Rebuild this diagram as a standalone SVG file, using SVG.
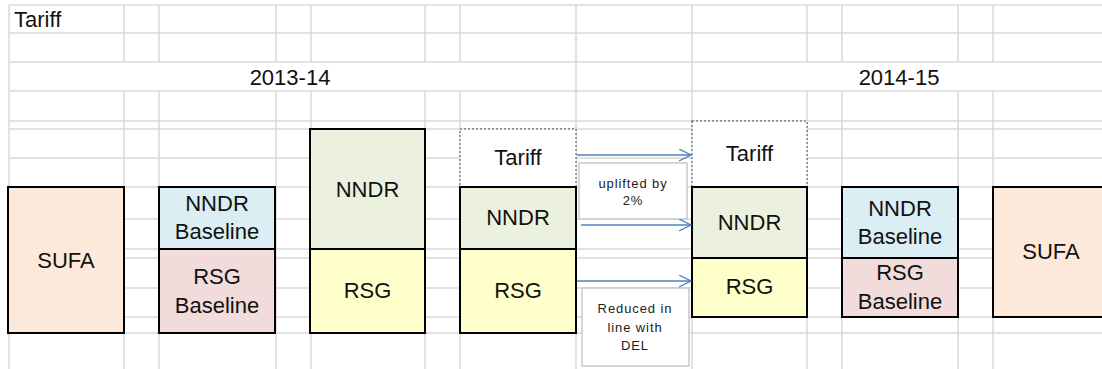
<svg xmlns="http://www.w3.org/2000/svg" width="1102" height="369" viewBox="0 0 1102 369">
  <style>
    .grid { stroke: #D9D9D9; stroke-width: 1.5; fill: none; }
    .box { stroke: #000; stroke-width: 2; }
    .dotted { fill: #fff; stroke: #808080; stroke-width: 1.5; stroke-dasharray: 2 2; }
    .note { fill: #fff; stroke: #C8C8C8; stroke-width: 1.5; }
    .lbl { font-family: "Liberation Sans", Arial, sans-serif; font-size: 22px; fill: #111; text-anchor: middle; }
    .hdr { font-family: "Liberation Sans", Arial, sans-serif; font-size: 22px; fill: #111; }
    .small { font-family: "Liberation Sans", Arial, sans-serif; font-size: 13px; fill: #222; text-anchor: middle; letter-spacing: 0.9px; }
    .arrow { stroke: #4F81BD; stroke-width: 1.3; fill: none; marker-end: url(#chev); }
    .sufa { fill: #FDE9D9; }
    .nnb { fill: #DAEEF3; }
    .rsb { fill: #F2DCDB; }
    .nndr { fill: #EBF1DE; }
    .rsg { fill: #FFFFCC; }
  </style>
  <defs>
    <marker id="chev" markerUnits="userSpaceOnUse" markerWidth="14" markerHeight="14" refX="12" refY="6" orient="auto">
      <path d="M0,0 L12,6 L0,12" stroke="#4F81BD" stroke-width="1.3" fill="none"/>
    </marker>
  </defs>

  <rect x="0" y="0" width="1102" height="369" fill="#fff"/>

  <!-- spreadsheet grid -->
  <g id="grid" class="grid">
    <path d="M9,5 H1102 M9,33 H1102 M9,62 H1102 M9,91 H1102 M9,121 H1102 M9,129 H1102 M9,158 H1102 M9,187 H1102 M9,219 H1102 M9,249 H1102 M9,258 H1102 M9,288 H1102 M9,317 H1102 M9,333 H1102"/>
    <path d="M9,5 V369 M576,5 V369 M692,5 V369"/>
    <path d="M124,5 V62 M124,91 V369 M159,5 V62 M159,91 V369 M276,5 V62 M276,91 V369 M311,5 V62 M311,91 V369 M425,5 V62 M425,91 V369 M460,5 V62 M460,91 V369 M807,5 V62 M807,91 V369 M842,5 V62 M842,91 V369 M958,5 V62 M958,91 V369 M993,5 V62 M993,91 V369"/>
  </g>

  <!-- header labels -->
  <g id="headers">
    <text class="hdr" x="14" y="27">Tariff</text>
    <text class="lbl" x="290" y="85">2013-14</text>
    <text class="lbl" x="899" y="85">2014-15</text>
  </g>

  <!-- 2013-14 funding blocks -->
  <g id="sufa-1314">
    <rect class="box sufa" x="8" y="187" width="116" height="146"/>
    <text class="lbl" x="66" y="268">SUFA</text>
  </g>
  <g id="baseline-1314">
    <rect class="box nnb" x="159" y="187" width="116" height="62"/>
    <text class="lbl" x="217" y="211">NNDR</text>
    <text class="lbl" x="217" y="239">Baseline</text>
    <rect class="box rsb" x="159" y="249" width="116" height="84"/>
    <text class="lbl" x="217" y="284">RSG</text>
    <text class="lbl" x="217" y="313">Baseline</text>
  </g>
  <g id="split-1314">
    <rect class="box nndr" x="310" y="129" width="115" height="120"/>
    <text class="lbl" x="367.5" y="197">NNDR</text>
    <rect class="box rsg" x="310" y="249" width="115" height="84"/>
    <text class="lbl" x="367.5" y="298">RSG</text>
  </g>
  <g id="tariff-1314">
    <rect class="dotted" x="460" y="129" width="116" height="58"/>
    <text class="lbl" x="518" y="165">Tariff</text>
    <rect class="box nndr" x="460" y="187" width="116" height="62"/>
    <text class="lbl" x="518" y="225">NNDR</text>
    <rect class="box rsg" x="460" y="249" width="116" height="84"/>
    <text class="lbl" x="518" y="298">RSG</text>
  </g>

  <!-- notes between the years -->
  <g id="note-uplift">
    <rect class="note" x="579" y="163" width="108" height="56"/>
    <text class="small" x="633" y="188">uplifted by</text>
    <text class="small" x="633" y="205">2%</text>
  </g>
  <g id="note-reduced">
    <rect class="note" x="582" y="288" width="107" height="78"/>
    <text class="small" x="635" y="313">Reduced in</text>
    <text class="small" x="635" y="332">line with</text>
    <text class="small" x="635" y="350">DEL</text>
  </g>

  <!-- 2014-15 funding blocks -->
  <g id="tariff-1415">
    <rect class="dotted" x="692" y="121" width="115" height="66"/>
    <text class="lbl" x="749.5" y="161">Tariff</text>
    <rect class="box nndr" x="692" y="187" width="115" height="71"/>
    <text class="lbl" x="749.5" y="230">NNDR</text>
    <rect class="box rsg" x="692" y="258" width="115" height="59"/>
    <text class="lbl" x="749.5" y="294">RSG</text>
  </g>
  <g id="baseline-1415">
    <rect class="box nnb" x="842" y="187" width="116" height="71"/>
    <text class="lbl" x="900" y="216">NNDR</text>
    <text class="lbl" x="900" y="244">Baseline</text>
    <rect class="box rsb" x="842" y="258" width="116" height="59"/>
    <text class="lbl" x="900" y="280">RSG</text>
    <text class="lbl" x="900" y="309">Baseline</text>
  </g>
  <g id="sufa-1415">
    <rect class="box sufa" x="993" y="187" width="120" height="130"/>
    <text class="lbl" x="1051" y="259">SUFA</text>
  </g>

  <!-- year-on-year connectors -->
  <g id="connectors">
    <line class="arrow" x1="577" y1="155" x2="691" y2="155"/>
    <line class="arrow" x1="581" y1="225" x2="691" y2="225"/>
    <line class="arrow" x1="577" y1="281" x2="691" y2="281"/>
  </g>
</svg>
